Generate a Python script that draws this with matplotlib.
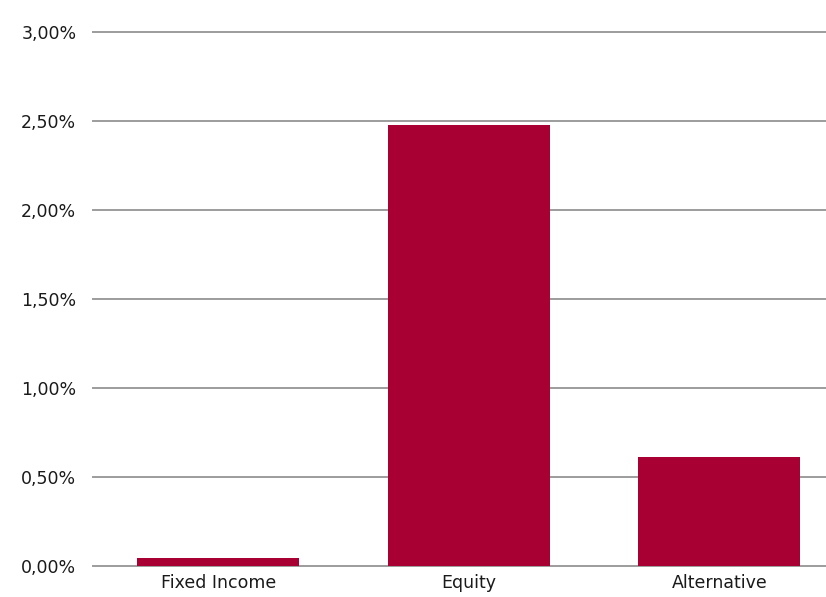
import matplotlib
matplotlib.use("Agg")
import matplotlib.pyplot as plt
from matplotlib.ticker import FuncFormatter

categories = ["Fixed Income", "Equity", "Alternative"]
values = [0.045, 2.48, 0.61]  # percent
yticks = [0.0, 0.5, 1.0, 1.5, 2.0, 2.5, 3.0]

fig = plt.figure(figsize=(8.26, 5.97), dpi=100)
ax = fig.add_axes([93/826, 1-566/597, 751.5/826, 534/597])

x = list(range(len(categories)))
ax.bar(x, values, width=0.647, color="#A80033", zorder=3)

ax.set_xlim(-0.5, len(categories) - 0.5)
ax.set_ylim(0, 3.0)
ax.set_yticks(yticks)
ax.yaxis.set_major_formatter(FuncFormatter(lambda v, p: f"{v:.2f}".replace(".", ",") + "%"))
ax.set_xticks(x)
ax.set_xticklabels(categories)

ax.grid(axis="y", color="#9c9c9c", linewidth=1.4, zorder=0)
for gl in ax.get_ygridlines():
    gl.set_clip_on(False)
for s in ax.spines.values():
    s.set_visible(False)
ax.tick_params(axis="both", length=0, labelsize=12.5, colors="#1a1a1a")
ax.tick_params(axis="y", pad=12)
ax.tick_params(axis="x", pad=6)
for lab in ax.get_yticklabels() + ax.get_xticklabels():
    lab.set_family("DejaVu Sans")

fig.savefig("out.png", dpi=100)
